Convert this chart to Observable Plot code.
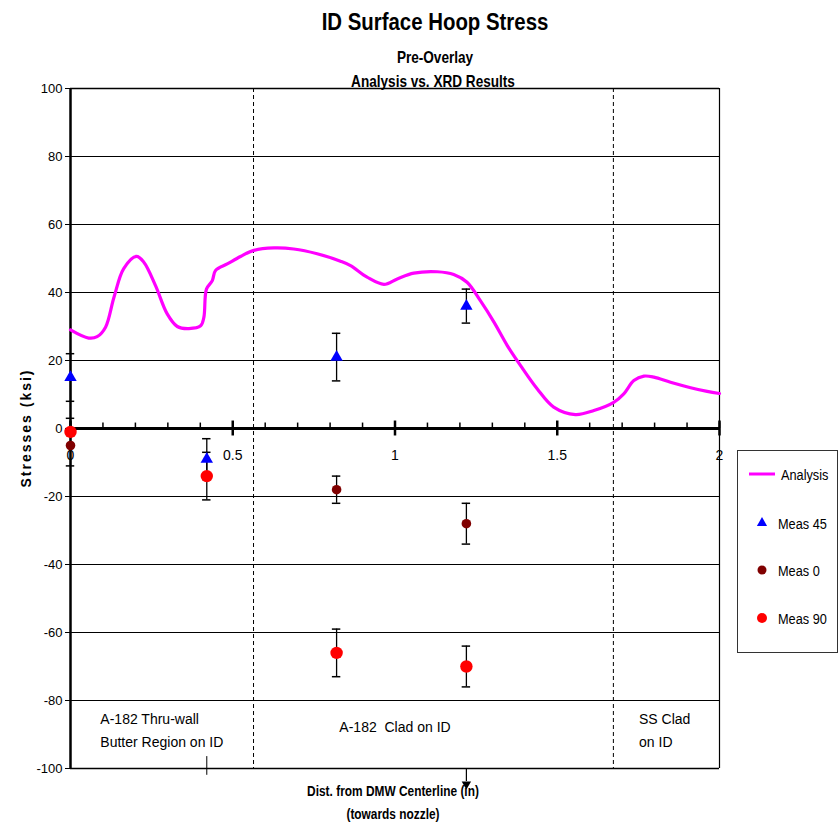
<!DOCTYPE html>
<html><head><meta charset="utf-8">
<script src="https://cdn.jsdelivr.net/npm/d3@7"></script>
<script src="https://cdn.jsdelivr.net/npm/@observablehq/plot@0.6"></script>
<style>
body{margin:0;background:#fff;}
</style>
</head><body><div id="chart"></div>
<script>
// Analysis curve (x in inches, y in ksi)
const analysisX = [0,0.056,0.082,0.108,0.134,0.164,0.203,0.226,0.262,0.298,0.329,0.365,0.401,0.411,0.419,0.437,0.447,0.483,0.524,0.565,0.627,0.688,0.76,0.832,0.863,0.914,0.966,1.007,1.058,1.13,1.181,1.222,1.263,1.305,1.346,1.387,1.438,1.489,1.556,1.613,1.674,1.705,1.736,1.767,1.798,1.849,1.911,1.962,2.0];
const analysisY = [29,26.6,27,29.8,38.6,47,50.6,48.9,42,33.7,30,29.4,30.2,32.7,41,43.5,46.5,48.4,50.6,52.4,53.1,52.8,51.4,49.2,47.9,44.5,42.4,44,45.7,46.1,45.3,43,37.6,31.3,24.4,18.5,11.7,6.3,4.1,5.3,7.7,10.2,14.1,15.4,15.1,13.6,12,10.9,10.3];

// Measurements
const meas45X = [0, 0.42, 0.82, 1.22];
const meas45Y = [15, -9, 21, 36];
const meas45Lo = [8, -15, 14, 31];
const meas45Hi = [22, -3, 28, 41];

const meas0X = [0, 0.82, 1.22];
const meas0Y = [-5, -18, -28];
const meas0Lo = [-11, -22, -34];
const meas0Hi = [3, -14, -22];

const meas90X = [0, 0.42, 0.82, 1.22];
const meas90Y = [-1, -14, -66, -70];
const meas90Lo = [-1, -21, -73, -76];
const meas90Hi = [-1, -7, -59, -64];

const regionBounds = [0.564, 1.673];
const xTickLabels = ["0", "0.5", "1", "1.5", "2"];
const xTickValues = [0, 0.5, 1, 1.5, 2];
const yTickValues = [-100,-80,-60,-40,-20,0,20,40,60,80,100];
const leftLabels = [
  {x: 0.092, y: -85.5, text: "A-182 Thru-wall"},
  {x: 0.092, y: -92.5, text: "Butter Region on ID"},
  {x: 1.752, y: -85.5, text: "SS Clad"},
  {x: 1.752, y: -92.5, text: "on ID"}
];
const centerLabels = [{x: 1.0, y: -88, text: "A-182  Clad on ID"}];
const markerLineX = [0.42];
const arrowX = [1.22];
const legendLabels = ["Analysis","Meas 45","Meas 0","Meas 90"];

const analysis = analysisX.map((x,i)=>({x, y: analysisY[i]}));
const mk = (X,Y,Lo,Hi)=>X.map((x,i)=>({x, y: Y[i], lo: Lo[i], hi: Hi[i]}));
const m45 = mk(meas45X, meas45Y, meas45Lo, meas45Hi);
const m0 = mk(meas0X, meas0Y, meas0Lo, meas0Hi);
const m90 = mk(meas90X, meas90Y, meas90Lo, meas90Hi);
const allErr = [...m45, ...m0, ...m90].filter(d=>d.lo!==d.hi);
const caps = allErr.flatMap(d=>[{x:d.x, y:d.lo},{x:d.x, y:d.hi}]);
const minorTicks = d3.range(0, 21).map(i=>i/10);

const F = '"Liberation Sans Narrow","Arial Narrow","Liberation Sans",Arial,sans-serif';
const capW = 0.013;
const plot = Plot.plot({
  width: 839, height: 825,
  marginLeft: 70, marginRight: 120, marginTop: 88, marginBottom: 57,
  x: {domain: [0, 2], axis: null},
  y: {domain: [-100, 100], axis: null},
  style: {fontFamily: F, background: "#fff"},
  marks: [
    Plot.ruleY(yTickValues, {stroke: "#000", strokeWidth: 1}),
    Plot.ruleX(regionBounds, {stroke: "#000", strokeWidth: 1, strokeDasharray: "4,3"}),
    Plot.ruleX([2], {stroke: "#000", strokeWidth: 1.2}),
    Plot.ruleY([-100, 100], {stroke: "#000", strokeWidth: 1.5}),
    Plot.ruleX([0], {stroke: "#000", strokeWidth: 2.5}),
    Plot.axisY({ticks: yTickValues, tickSize: 5, tickPadding: 3, fontSize: 13, tickFormat: d=>String(d), stroke: "#000", color: "#000"}),
    // x axis at y = 0
    Plot.ruleY([0], {stroke: "#000", strokeWidth: 3}),
    Plot.ruleX(minorTicks, {x: d=>d, y1: 0, y2: 1.6, stroke: "#000", strokeWidth: 1.5}),
    Plot.ruleX(xTickValues, {x: d=>d, y1: -2.2, y2: 2.2, stroke: "#000", strokeWidth: 2.5}),
    Plot.text(xTickValues, {x: d=>d, y: 0, text: (d,i)=>xTickLabels[i], dy: 27, fontSize: 14, fill: "#000"}),
    // analysis curve
    Plot.line(analysis, {x: "x", y: "y", stroke: "#ff00ff", strokeWidth: 3.2, curve: "catmull-rom"}),
    // error bars
    Plot.ruleX(allErr, {x: "x", y1: "lo", y2: "hi", stroke: "#000", strokeWidth: 1.3}),
    Plot.ruleY(caps, {y: "y", x1: d=>d.x-capW, x2: d=>d.x+capW, stroke: "#000", strokeWidth: 1.5}),
    // points
    Plot.dot(m45, {x: "x", y: "y", symbol: "triangle", r: 4.6, fill: "#0000ff", stroke: null}),
    Plot.dot(m0, {x: "x", y: "y", r: 4.8, fill: "#800000", stroke: null}),
    Plot.dot(m90, {x: "x", y: "y", r: 6.2, fill: "#ff0000", stroke: null}),
    // region labels
    Plot.text(leftLabels, {x: "x", y: "y", text: "text", textAnchor: "start", fontSize: 14, fill: "#000"}),
    Plot.text(centerLabels, {x: "x", y: "y", text: "text", textAnchor: "middle", fontSize: 14, fill: "#000"}),
    // annotation marks below
    Plot.ruleX(markerLineX, {x: d=>d, y1: -96.5, y2: -102, stroke: "#000", strokeWidth: 1}),
    Plot.ruleX(arrowX, {x: d=>d, y1: -100, y2: -103.8, stroke: "#000", strokeWidth: 1.2}),
    Plot.dot(arrowX, {x: d=>d, y: -104.6, symbol: "triangle", r: 3.5, rotate: 180, fill: "#000", stroke: null})
  ]
});
document.getElementById("chart").appendChild(plot);

const svg = d3.select(plot);
const addText = (x,y,t,size,weight,sx=1,rot=0,anchor="middle")=>{
  return svg.append("text").attr("transform",`translate(${x},${y}) rotate(${rot}) scale(${sx},1)`)
    .attr("text-anchor",anchor)
    .attr("font-family",F).attr("font-size",size).attr("font-weight",weight).attr("fill","#000").text(t);
};
addText(435, 30, "ID Surface Hoop Stress", 24, "bold", 0.85);
addText(435, 63, "Pre-Overlay", 16, "bold", 0.85);
addText(433, 87, "Analysis vs. XRD Results", 16, "bold", 0.85);
addText(393, 796, "Dist. from DMW Centerline (in)", 14, "bold", 0.85);
addText(393, 819, "(towards nozzle)", 14, "bold", 0.85);
addText(31, 428, "Stresses (ksi)", 14, "bold", 1, -90).attr("letter-spacing", "2px");

// legend
const lg = svg.append("g");
lg.append("rect").attr("x",737.5).attr("y",450.5).attr("width",100).attr("height",202).attr("fill","#fff").attr("stroke","#333").attr("stroke-width",1);
lg.append("line").attr("x1",749).attr("x2",775).attr("y1",474).attr("y2",474).attr("stroke","#ff00ff").attr("stroke-width",3);
lg.append("path").attr("d", d3.symbol(d3.symbolTriangle, 45)()).attr("transform","translate(762,523)").attr("fill","#0000ff");
lg.append("circle").attr("cx",762).attr("cy",570).attr("r",4.5).attr("fill","#800000");
lg.append("circle").attr("cx",762).attr("cy",618).attr("r",5).attr("fill","#ff0000");
const legendY = [480, 529, 576, 624];
legendLabels.forEach((t,i)=>{
  addText(i===0?781:778, legendY[i], t, 15, "normal", 0.85, 0, "start");
});
</script>
</body></html>
